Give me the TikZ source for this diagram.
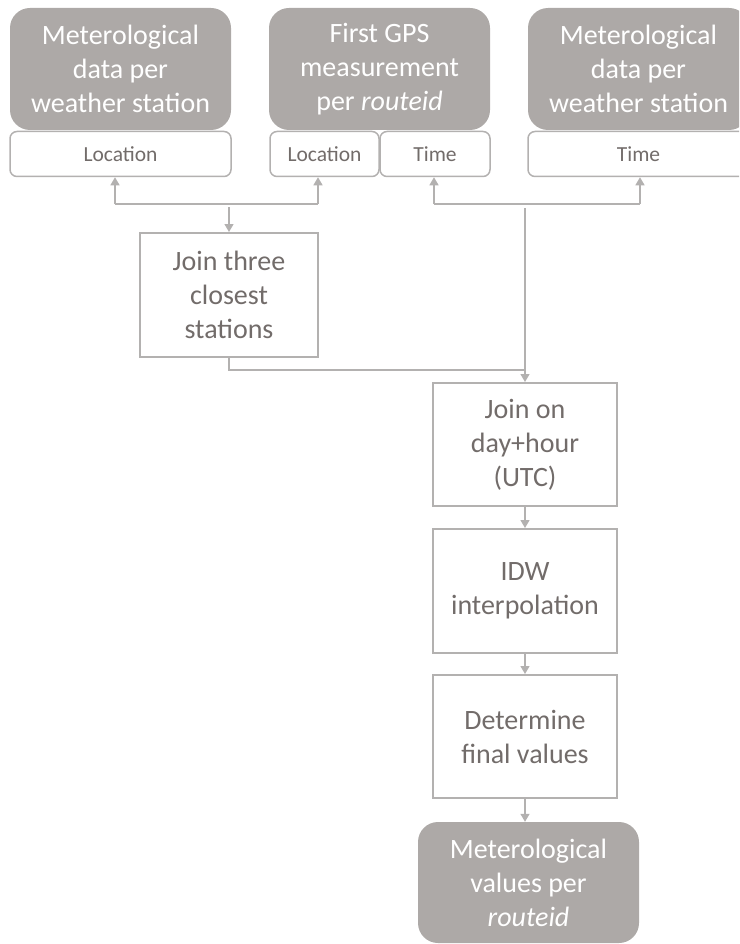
\documentclass[tikz,border=0pt]{standalone}
\usepackage{fontspec}
\setmainfont{Carlito}
\usetikzlibrary{arrows.meta}
\definecolor{boxgray}{HTML}{ADA9A7}
\definecolor{linegray}{HTML}{B3B1B0}
\definecolor{textgray}{HTML}{726C6A}
\begin{document}
\begin{tikzpicture}[x=1pt,y=-1pt,
  src/.style={fill=boxgray, rounded corners=20pt, minimum width=221pt, minimum height=122pt, text=white, font=\fontsize{28}{34}\selectfont, align=center, inner sep=0pt},
  keybox/.style={draw=linegray, line width=1.5pt, fill=white, rounded corners=7pt, minimum height=45pt, font=\fontsize{21.5}{24}\selectfont, text=textgray, inner sep=0pt},
  stepbox/.style={draw=linegray, line width=2pt, minimum width=184pt, minimum height=123pt, font=\fontsize{28}{34}\selectfont, text=textgray, align=center, inner sep=0pt},
  conn/.style={draw=linegray, line width=1.3pt},
  arr/.style={conn, -{Triangle[width=9pt,length=8pt]}}]
\useasboundingbox (0,0) rectangle (739,944);
\clip (0,0) rectangle (739,944);
% sources
\node[src] (g1) at (120.5,69) {Meterological\\data per\\weather station};
\node[keybox, minimum width=221pt] (loc1) at (120.5,154) {Location};
\node[src] (g2) at (379.5,69) {First GPS\\measurement\\per \textit{routeid}};
\node[keybox, minimum width=109pt] (loc2) at (324.5,154) {Location};
\node[keybox, minimum width=110pt] (time2) at (435,154) {Time};
\node[src] (g3) at (638.5,69) {Meterological\\data per\\weather station};
\node[keybox, minimum width=221pt] (time3) at (638.5,154) {Time};
% steps
\node[stepbox, minimum width=178pt, minimum height=124pt] (join3) at (229,295) {Join three\\closest\\stations};
\node[stepbox] (joinday) at (525,444.5) {Join on\\day+hour\\(UTC)};
\node[stepbox, minimum height=124pt] (idw) at (525,591) {IDW\\interpolation};
\node[stepbox] (det) at (525,736.5) {Determine\\final values};
\node[src, minimum height=121pt] (final) at (528.5,882.5) {Meterological\\values per\\\textit{routeid}};
% left branch
\coordinate (l1) at (115,204);
\coordinate (r1) at (318,204);
\coordinate (b1) at (229,207);
\draw[conn] (l1) -- (r1);
\draw[arr] (l1) -- (l1 |- loc1.south);
\draw[arr] (r1) -- (r1 |- loc2.south);
\draw[arr] (b1) -- (join3.north);
% right branch
\coordinate (l2) at (434,204);
\coordinate (r2) at (640,204);
\coordinate (b2) at (525,208);
\coordinate (m) at (525,370);
\draw[conn] (l2) -- (r2);
\draw[arr] (l2) -- (l2 |- time2.south);
\draw[arr] (r2) -- (r2 |- time3.south);
\draw[conn] (join3.south) |- (m);
\draw[arr] (b2) -- (joinday.north);
% chain
\draw[arr] (joinday.south) -- (idw.north);
\draw[arr] (idw.south) -- (det.north);
\draw[arr] (det.south) -- (det.south |- final.north);
\end{tikzpicture}
\end{document}
